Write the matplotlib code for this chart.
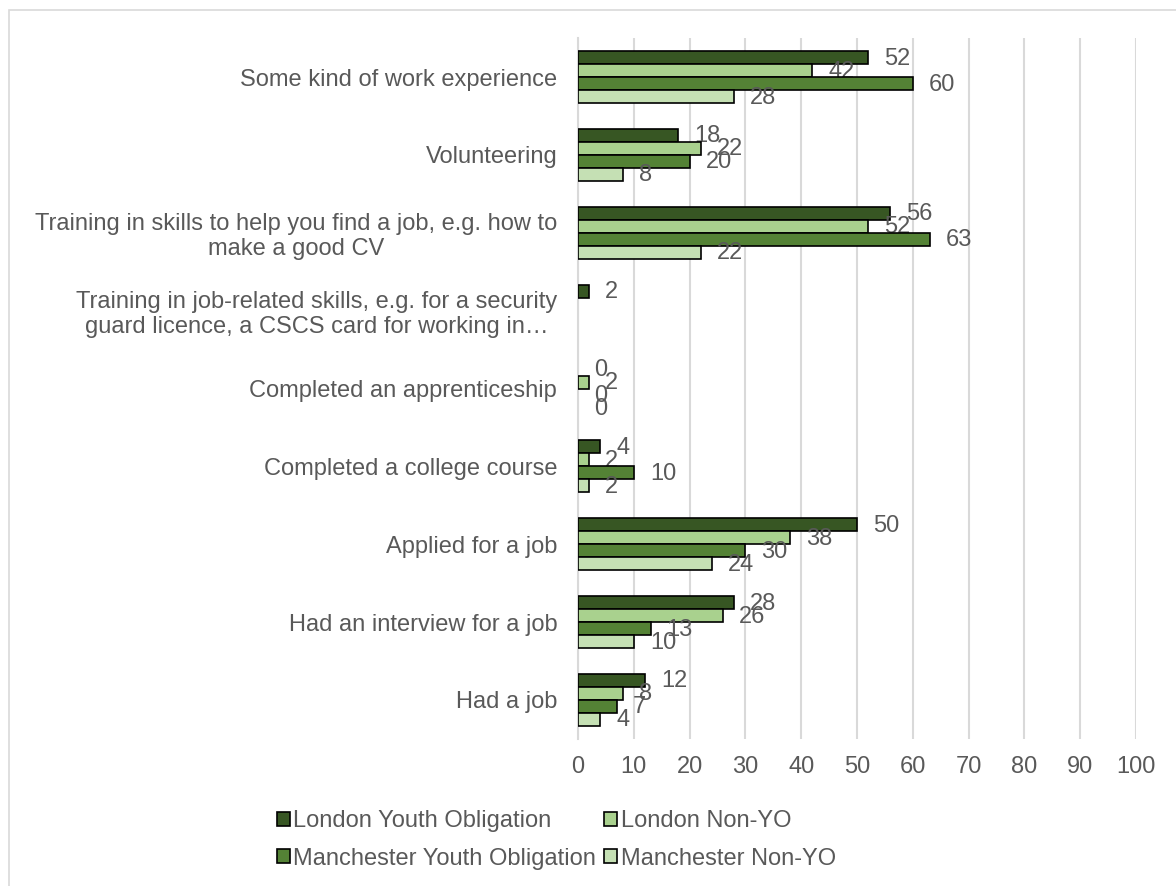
import numpy as np
import matplotlib
matplotlib.use('Agg')
import matplotlib.pyplot as plt
from matplotlib.patches import Patch, Rectangle

plt.rcParams['font.family'] = ['Liberation Sans', 'DejaVu Sans']

# data
categories = [
    'Some kind of work experience',
    'Volunteering',
    'Training in skills to help you find a job, e.g. how to\nmake a good CV',
    'Training in job-related skills, e.g. for a security\nguard licence, a CSCS card for working in\u2026',
    'Completed an apprenticeship',
    'Completed a college course',
    'Applied for a job',
    'Had an interview for a job',
    'Had a job',
]
series_names = ['London Youth Obligation', 'London Non-YO',
                'Manchester Youth Obligation', 'Manchester Non-YO']
london_yo = [52, 18, 56, 2, 0, 4, 50, 28, 12]
london_non = [42, 22, 52, np.nan, 2, 2, 38, 26, 8]
manc_yo = [60, 20, 63, np.nan, 0, 10, 30, 13, 7]
manc_non = [28, 8, 22, np.nan, 0, 2, 24, 10, 4]
x_ticks = list(range(0, 101, 10))

colors = ['#375623', '#A9D18E', '#548235', '#C5E0B4']
txt_col = '#595959'
fs = 17

fig = plt.figure(figsize=(11.76, 8.86), dpi=100)
ax = fig.add_axes([0.4915, 0.166, 0.4745, 0.791])

# chart border (cropped)
fig.patches.append(Rectangle((9 / 1176, -0.1), 1.2, 1 - 10 / 886 + 0.1,
                             transform=fig.transFigure, fill=False,
                             edgecolor='#D9D9D9', linewidth=1.2, zorder=0))

# title, almost entirely cut off at the top like the reference
fig.text(6 / 1176, 1 + 6 / 886, 'Figure 4: Experience of participants prior to participation',
         fontsize=17, fontweight='bold', color='black', va='baseline', ha='left')

y = np.arange(len(categories))
h = 0.167
all_series = [london_yo, london_non, manc_yo, manc_non]
for i, vals in enumerate(all_series):
    pos = y + (i - 1.5) * h
    bar_vals = [v if v > 0 else np.nan for v in vals]
    ax.barh(pos, bar_vals, height=h, color=colors[i], edgecolor='black',
            linewidth=1.2, zorder=3)
    for p, v in zip(pos, vals):
        if np.isnan(v):
            continue
        ax.annotate(str(int(v)), (v, p), xytext=(16, -1), textcoords='offset pixels',
                    ha='left', va='center', fontsize=fs, color=txt_col)

ax.set_xlim(0, 100)
ax.set_ylim(len(categories) - 0.5, -0.5)
ax.set_xticks(x_ticks)
ax.set_yticks(y)
ax.set_yticklabels(categories, fontsize=fs, color=txt_col, linespacing=1.15)
for lab in ax.get_yticklabels():
    lab.set_multialignment('center')
ax.tick_params(axis='x', labelsize=fs, labelcolor=txt_col, length=0, pad=12)
ax.tick_params(axis='y', length=0, pad=15)
ax.xaxis.grid(True, color='#D9D9D9', linewidth=1.5, zorder=0)
ax.set_axisbelow(True)
for s in ['top', 'right', 'bottom']:
    ax.spines[s].set_visible(False)
ax.spines['left'].set_color('#D9D9D9')
ax.spines['left'].set_linewidth(1.5)

handles = [Patch(facecolor=colors[i], edgecolor='black', linewidth=1.2, label=series_names[i])
           for i in [0, 2, 1, 3]]
fig.legend(handles=handles, ncol=2, loc='center', bbox_to_anchor=(0.473, 0.052),
           frameon=False, fontsize=fs, labelcolor=txt_col, handlelength=0.55,
           handleheight=0.55, handletextpad=0.15, columnspacing=0.35, labelspacing=0.65)

fig.savefig('out.png', dpi=100)
